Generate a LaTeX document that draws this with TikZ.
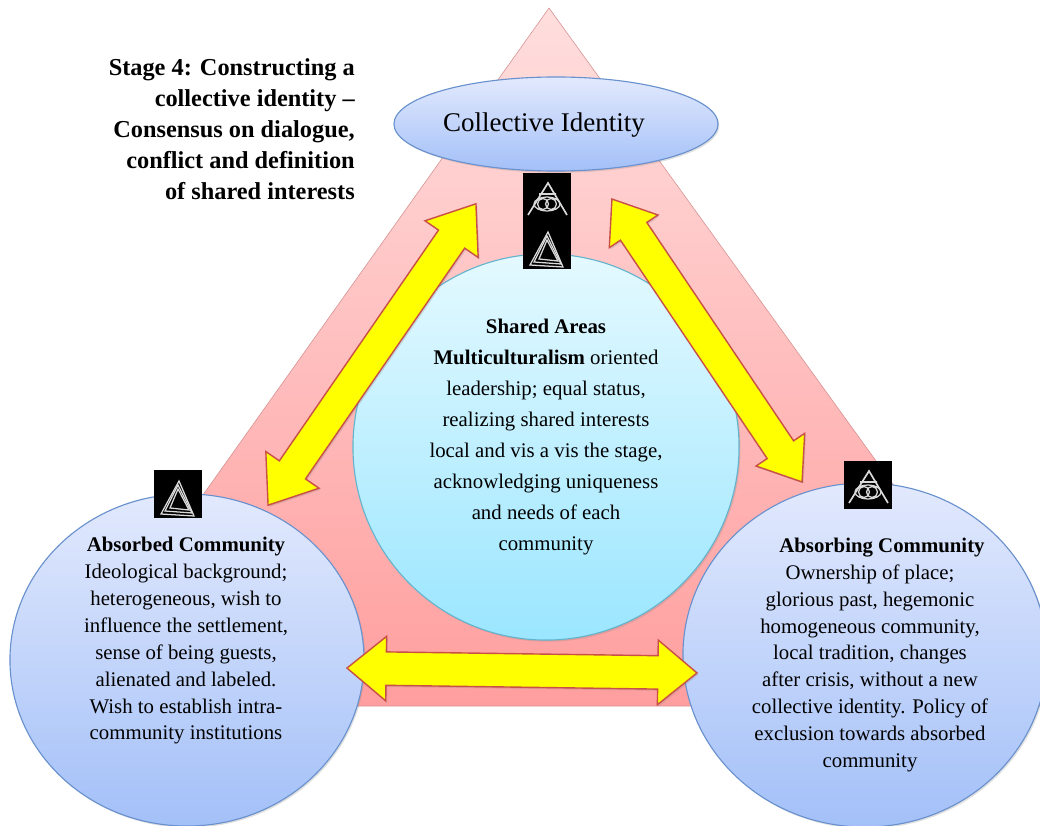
\documentclass[tikz,border=0pt]{standalone}
\usepackage{fontspec}
\setmainfont{Liberation Serif}
\usetikzlibrary{shapes.geometric,shapes.arrows,shadows,positioning}
\definecolor{arrowEdge}{RGB}{200,80,70}
\definecolor{arrowFill}{RGB}{255,255,0}
\definecolor{blueEdge}{RGB}{105,145,205}
\definecolor{aquaEdge}{RGB}{100,180,205}
\definecolor{blueTop}{RGB}{226,233,253}
\definecolor{blueLow}{RGB}{163,192,248}
\definecolor{aquaTop}{RGB}{228,249,255}
\definecolor{aquaLow}{RGB}{155,230,255}
\tikzset{
	softshadow/.style={drop shadow={opacity=0.25,shadow xshift=1pt,shadow yshift=-1.2pt}},
	community/.style={ellipse,draw=blueEdge,thick,inner sep=0pt,top color=blueTop,bottom color=blueLow,softshadow},
	bigarrow/.style={double arrow,draw=arrowEdge,line width=1pt,fill=arrowFill,inner xsep=0pt,inner ysep=0.38cm,minimum width=1.58cm,double arrow head extend=0.41cm,double arrow tip angle=74,softshadow},
	bodytext/.style={align=center,font=\fontsize{14.8}{19.1}\selectfont,inner sep=0pt},
	iconbox/.style={fill=black,minimum width=1.2cm,minimum height=1.2cm,inner sep=0pt},
	iconline/.style={draw=white!85!black,line width=0.9pt},
	pics/ringicon/.style={code={
		\node[iconbox] at (0,0) {};
		\draw[iconline,line width=1.2pt] (-19,-18) -- (1,14) -- (20,-18) (-8,3) -- (9,3);
		\draw[iconline] (0,-7) ellipse (13 and 7) (-4,-7) circle (5.5) (4,-7) circle (5.5);
	}},
	pics/triicon/.style={code={
		\node[iconbox] at (0,0) {};
		\draw[iconline] (1,13) -- (-17,-20) -- (16,-22) -- cycle;
		\draw[iconline] (0,9) -- (-13,-17) -- (14,-19) -- cycle;
		\draw[iconline] (0,5) -- (-8,-14) -- (11,-16) -- cycle;
	}}
}
\begin{document}
\begin{tikzpicture}[x=0.025cm,y=0.025cm]
	\useasboundingbox (0,0) rectangle (1040,825);
	\clip (0,0) rectangle (1040,825);
	% triangle behind everything
	\draw[draw=red!45!gray!60,top color=red!13!white,bottom color=red!38!white] (549,817) coordinate (apex) -- (1053,119) -- (53,119) -- cycle;
	% the four areas
	\node[ellipse,draw=blueEdge,thick,minimum width=8.1cm,minimum height=2.35cm,top color=blueTop,bottom color=blueLow,softshadow] (collective) at (556,701) {};
	\node[circle,draw=aquaEdge,thick,minimum size=9.65cm,inner sep=0pt,top color=aquaTop,bottom color=aquaLow,softshadow] (shared) at (546,378) {};
	\node[community,minimum width=8.85cm,minimum height=8.3cm] (absorbed) at (187,165) {};
	\node[community,minimum width=9.1cm,minimum height=8.6cm] (absorbing) at (865,170) {};
	% arrows between them
	\node[bigarrow,minimum height=9.15cm,rotate=55.4] (arrowLeft) at (372,470.5) {};
	\node[bigarrow,minimum width=1.43cm,double arrow head extend=0.335cm,minimum height=8.52cm,rotate=-56.1] (arrowRight) at (707,484.5) {};
	\node[bigarrow,inner ysep=0.4cm,double arrow head extend=0.39cm,double arrow tip angle=79,minimum height=8.75cm,rotate=-0.8] (arrowBottom) at (522,154.5) {};
	% icons
	\pic at (547,628) {ringicon};
	\pic at (547,580) {triicon};
	\pic at (178,331) {triicon};
	\pic at (868,340) {ringicon};
	% texts
	\node[font=\fontsize{19.2}{24}\selectfont,inner sep=0pt] (collectiveText) at (544,700) {Collective Identity};
	\node[align=right,anchor=east,font=\bfseries\fontsize{17.3}{22}\selectfont,inner sep=0pt] (stage) at (355,696) {Stage 4: Constructing a\\collective identity --\\Consensus on dialogue,\\conflict and definition\\of shared interests};
	\node[bodytext,font=\fontsize{14.8}{22}\selectfont] (sharedText) at (546,388) {\textbf{Shared Areas}\\\textbf{Multiculturalism} oriented\\leadership; equal status,\\realizing shared interests\\local and vis a vis the stage,\\acknowledging uniqueness\\and needs of each\\community};
	\node[bodytext] (absorbedText) at (186,184) {\textbf{Absorbed Community}\\Ideological background;\\heterogeneous, wish to\\influence the settlement,\\sense of being guests,\\alienated and labeled.\\Wish to establish intra-\\community institutions};
	\node[bodytext] (absorbingText) at (870,170) {\hspace*{0.6cm}\textbf{Absorbing Community}\\Ownership of place;\\glorious past, hegemonic\\homogeneous community,\\local tradition, changes\\after crisis, without a new\\collective identity. Policy of\\exclusion towards absorbed\\community};
\end{tikzpicture}
\end{document}
